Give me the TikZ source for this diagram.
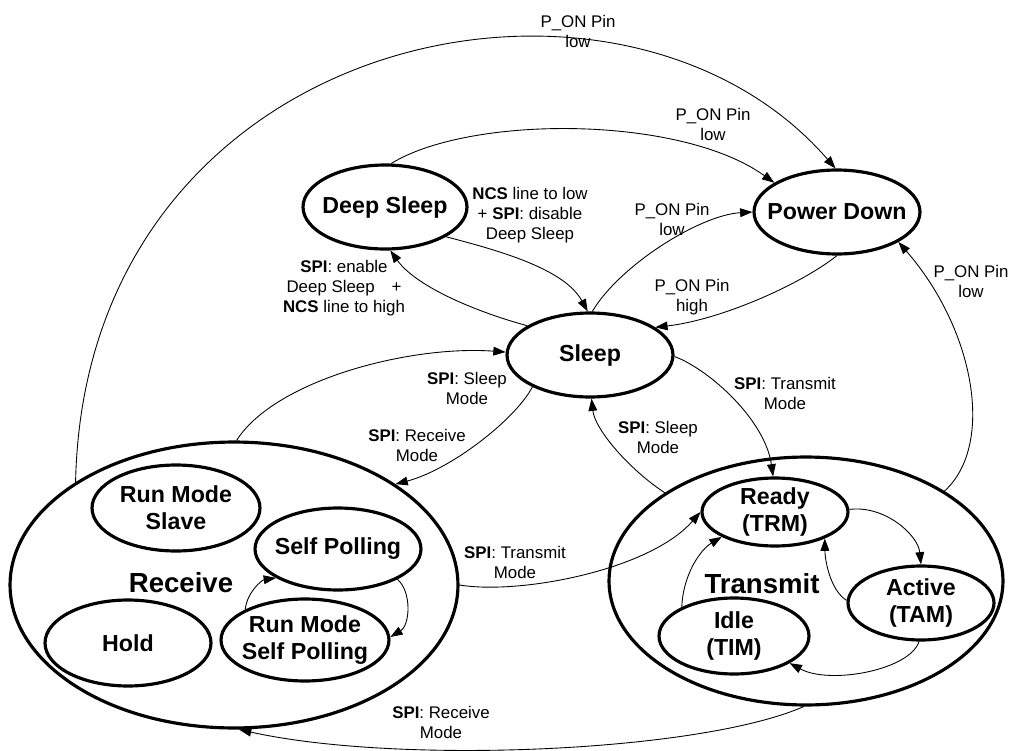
\documentclass[tikz,border=0pt]{standalone}
\usepackage{fontspec}
\setmainfont{Liberation Sans}
\usetikzlibrary{shapes.geometric,arrows.meta}
\newcommand\LblFont{\fontsize{9.6}{11.4}\selectfont}
\newcommand\StateFont{\fontsize{13.2}{15.5}\selectfont\bfseries}
\newcommand\GroupFont{\fontsize{15.7}{18}\selectfont\bfseries}
\tikzset{
  state/.style={ellipse, draw, line width=1.8pt, inner sep=0pt},
  state text/.style={font=\StateFont, align=center, inner sep=0pt},
  group text/.style={font=\GroupFont, inner sep=0pt},
  trans/.style={line width=0.5pt, -{Triangle[length=7pt,width=5pt]}},
  trans label/.style={font=\LblFont, align=center, inner sep=0pt}
}

\begin{document}
\begin{tikzpicture}[x=0.02cm, y=-0.02cm, line join=round]
  \useasboundingbox (0,0) rectangle (1009,751);

  % Main states
  \node[state, minimum width=3.28cm, minimum height=1.68cm,
        label={[state text]center:Deep Sleep}] (deep) at (385,207) {};
  \node[state, minimum width=3.32cm, minimum height=1.68cm,
        label={[state text]center:Power Down}] (power) at (837,212) {};
  \node[state, minimum width=3.32cm, minimum height=1.68cm,
        label={[state text]center:Sleep}] (sleep) at (590,355) {};

  % Receive group
  \node[state, minimum width=8.96cm, minimum height=5.72cm] (receive) at (234,585) {};
  \node[group text] (rcvtxt) at (181,583) {Receive};
  \node[state, minimum width=3.36cm, minimum height=1.72cm,
        label={[state text]center:{Run Mode\\Slave}}] (rms) at (176,508) {};
  \node[state, minimum width=3.32cm, minimum height=1.64cm,
        label={[state text]center:Self Polling}] (sp) at (338,549) {};
  \node[state, minimum width=3.36cm, minimum height=1.64cm,
        label={[state text]center:{Run Mode\\Self Polling}}] (rmsp) at (305,640) {};
  \node[state, minimum width=3.32cm, minimum height=1.72cm,
        label={[state text]center:Hold}] (hold) at (128,643) {};

  % Transmit group
  \node[state, minimum width=7.88cm, minimum height=4.96cm] (transmit) at (806,581) {};
  \node[group text] (trmtxt) at (762,584) {Transmit};
  \node[state, minimum width=2.92cm, minimum height=1.36cm,
        label={[state text]center:{Ready\\(TRM)}}] (ready) at (775,512) {};
  \node[state, minimum width=2.92cm, minimum height=1.48cm,
        label={[state text]center:{Active\\(TAM)}}] (active) at (921,603) {};
  \node[state, minimum width=3.0cm, minimum height=1.52cm,
        label={[state text]center:{Idle\\(TIM)}}] (idle) at (734,636) {};

  % Transitions between main states
  \draw[trans] (receive.147) .. controls (85,30) and (620,-80) .. (power.92);
  \draw[trans] (deep.82) .. controls (470,115) and (680,115) .. (power.155);
  \draw[trans] (deep.-26) .. controls (505,252) and (565,270) .. (sleep.93);
  \draw[trans] (sleep.155) .. controls (470,310) and (415,285) .. (deep.-83);
  \draw[trans] (sleep.87) .. controls (620,265) and (700,215) .. (power.180);
  \draw[trans] (power.-90) .. controls (800,285) and (720,320) .. (sleep.23);
  \draw[trans] (transmit.33) .. controls (995,445) and (975,330) .. (power.-26);
  \draw[trans] (receive.89) .. controls (275,380) and (410,345) .. (sleep.178);
  \draw[trans] (sleep.209) .. controls (515,420) and (450,470) .. (receive.32);
  \draw[trans] (sleep.-1) .. controls (710,370) and (765,420) .. (ready.93);
  \draw[trans] (transmit.148) .. controls (630,470) and (595,430) .. (sleep.-88);
  \draw[trans] (receive.0) .. controls (520,595) and (650,570) .. (ready.180);
  \draw[trans] (transmit.-91) .. controls (700,752) and (400,765) .. (receive.-88);

  % Inside Receive
  \draw[trans] (sp.-27) .. controls (412,592) and (410,625) .. (rmsp.2);
  \draw[trans] (rmsp.153) .. controls (247,592) and (262,580) .. (sp.205);

  % Inside Transmit
  \draw[trans] (ready.2) .. controls (885,505) and (918,535) .. (active.90);
  \draw[trans] (active.178) .. controls (830,590) and (825,560) .. (ready.-28);
  \draw[trans] (active.-93) .. controls (910,670) and (830,685) .. (idle.-26);
  \draw[trans] (idle.151) .. controls (683,575) and (700,550) .. (ready.205);

  % Transition labels
  \node[trans label] (pdtop) at (578,31) {P\_ON Pin\\low};
  \node[trans label] (pddeep) at (713,124) {P\_ON Pin\\low};
  \node[trans label] (wake) at (530,215) {\textbf{NCS} line to low\\+ \textbf{SPI}: disable\\Deep Sleep};
  \node[trans label] (dive) at (344,288) {\textbf{SPI}: enable\\Deep Sleep\quad+\\\textbf{NCS} line to high};
  \node[trans label] (pdsleep) at (672,219) {P\_ON Pin\\low};
  \node[trans label] (pdup) at (692,297) {P\_ON Pin\\high};
  \node[trans label] (pdtrm) at (971,281) {P\_ON Pin\\low};
  \node[trans label] (rcvslp) at (467,388) {\textbf{SPI}: Sleep\\Mode};
  \node[trans label] (slprcv) at (417,445) {\textbf{SPI}: Receive\\Mode};
  \node[trans label] (slptrm) at (785,393) {\textbf{SPI}: Transmit\\Mode};
  \node[trans label] (trmslp) at (658,437) {\textbf{SPI}: Sleep\\Mode};
  \node[trans label] (rcvtrm) at (515,562) {\textbf{SPI}: Transmit\\Mode};
  \node[trans label] (trmrcv) at (441,722) {\textbf{SPI}: Receive\\Mode};
\end{tikzpicture}
\end{document}
